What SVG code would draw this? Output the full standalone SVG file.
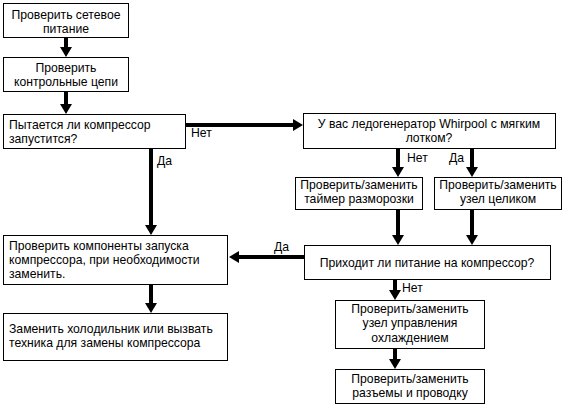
<svg xmlns="http://www.w3.org/2000/svg" width="568" height="407" viewBox="0 0 568 407">
<style>
.box{fill:#fff;stroke:#000;stroke-width:1}
text{font-family:"Liberation Sans",Arial,sans-serif;font-size:12.2px;fill:#000}
.c{text-anchor:middle}
.edge{stroke:#000;stroke-width:4;fill:none;marker-end:url(#arr)}
</style>
<defs>
<marker id="arr" viewBox="0 0 10 12" refX="0" refY="6" markerWidth="10" markerHeight="12" markerUnits="userSpaceOnUse" orient="auto">
<path d="M0,0 L10,6 L0,12 z" fill="#000"/>
</marker>
</defs>
<rect width="568" height="407" fill="#fff"/>
<g id="connectors">
<line class="edge" x1="66" y1="37" x2="66" y2="47"/>
<line class="edge" x1="66" y1="92" x2="66" y2="104"/>
<line class="edge" x1="186" y1="125" x2="293" y2="125"/>
<line class="edge" x1="151" y1="149" x2="151" y2="225"/>
<line class="edge" x1="398" y1="149" x2="398" y2="167"/>
<line class="edge" x1="472" y1="149" x2="472" y2="167"/>
<line class="edge" x1="398" y1="209" x2="398" y2="235"/>
<line class="edge" x1="472" y1="209" x2="472" y2="235"/>
<line class="edge" x1="304" y1="257" x2="239" y2="257"/>
<line class="edge" x1="151" y1="284" x2="151" y2="303"/>
<line class="edge" x1="395" y1="279" x2="395" y2="290"/>
<line class="edge" x1="395" y1="348" x2="395" y2="359"/>
<text x="191" y="137">Нет</text>
<text x="157" y="165">Да</text>
<text x="407" y="162">Нет</text>
<text x="449" y="162">Да</text>
<text x="274" y="251">Да</text>
<text x="402" y="292">Нет</text>
</g>
<g id="n1"><rect class="box" x="3.5" y="3.5" width="125" height="34"/><text class="c" x="66" y="19">Проверить сетевое</text><text class="c" x="66" y="33">питание</text></g>
<g id="n2"><rect class="box" x="3.5" y="57.5" width="125" height="34"/><text class="c" x="66" y="72">Проверить</text><text class="c" x="66" y="86">контрольные цепи</text></g>
<g id="n3"><rect class="box" x="3.5" y="114.5" width="182" height="34"/><text x="9" y="129">Пытается ли компрессор</text><text x="9" y="143">запустится?</text></g>
<g id="n4"><rect class="box" x="303.5" y="113.5" width="252" height="35"/><text class="c" x="429" y="128">У вас ледогенератор Whirpool с мягким</text><text class="c" x="429" y="142">лотком?</text></g>
<g id="n5"><rect class="box" x="295.5" y="177.5" width="127" height="32"/><text class="c" x="359" y="189">Проверить/заменить</text><text class="c" x="359" y="203">таймер разморозки</text></g>
<g id="n6"><rect class="box" x="434.5" y="177.5" width="127" height="32"/><text class="c" x="498" y="189">Проверить/заменить</text><text class="c" x="498" y="203">узел целиком</text></g>
<g id="n7"><rect class="box" x="3.5" y="235.5" width="224" height="49"/><text x="9" y="250">Проверить компоненты запуска</text><text x="9" y="264">компрессора, при необходимости</text><text x="9" y="278">заменить.</text></g>
<g id="n8"><rect class="box" x="304.5" y="245.5" width="246" height="34"/><text class="c" x="427" y="267">Приходит ли питание на компрессор?</text></g>
<g id="n9"><rect class="box" x="3.5" y="313.5" width="224" height="47"/><text x="9" y="333">Заменить холодильник или вызвать</text><text x="9" y="347">техника для замены компрессора</text></g>
<g id="n10"><rect class="box" x="335.5" y="300.5" width="149" height="48"/><text class="c" x="410" y="313">Проверить/заменить</text><text class="c" x="410" y="327">узел управления</text><text class="c" x="410" y="342">охлаждением</text></g>
<g id="n11"><rect class="box" x="335.5" y="369.5" width="149" height="34"/><text class="c" x="410" y="383">Проверить/заменить</text><text class="c" x="410" y="397">разъемы и проводку</text></g>
</svg>
